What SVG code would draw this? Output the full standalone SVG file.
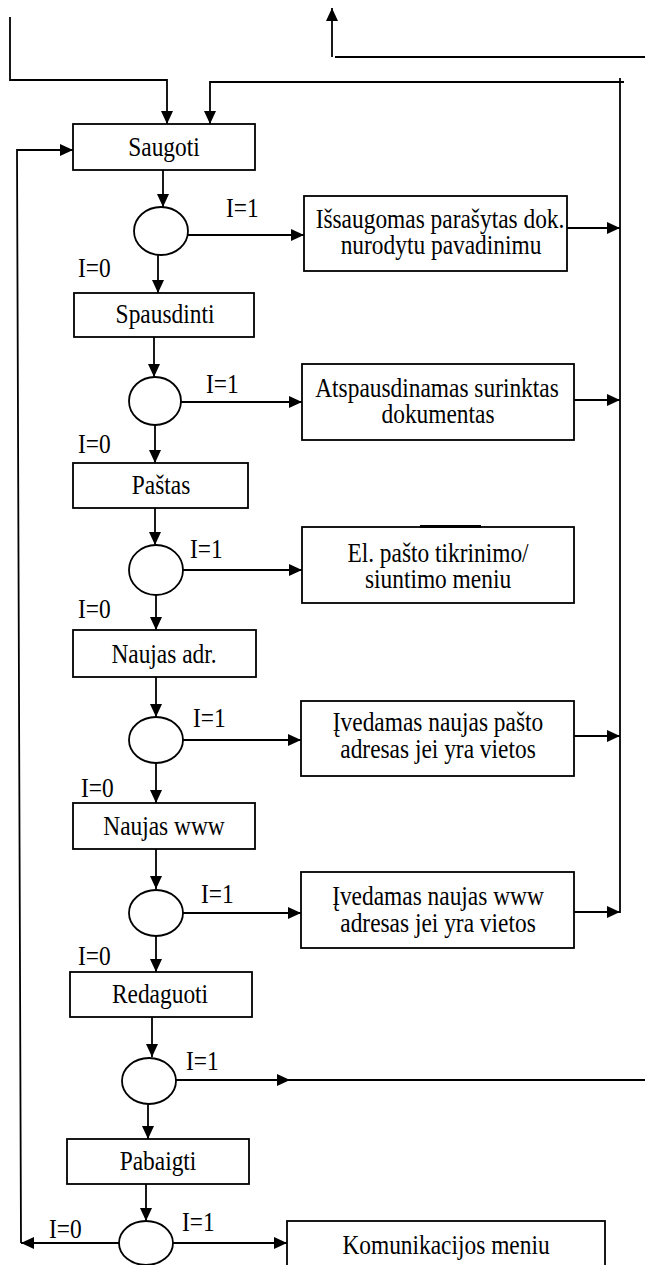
<svg xmlns="http://www.w3.org/2000/svg" width="645" height="1265" viewBox="0 0 645 1265">
  <style>
    .box { fill: #fff; stroke: #000; stroke-width: 1.8; }
    .dec { fill: #fff; stroke: #000; stroke-width: 1.8; }
    .ln { fill: none; stroke: #000; stroke-width: 1.8; }
    .arr { fill: none; stroke: #000; stroke-width: 1.8; marker-end: url(#ah); }
    text { font-family: "Liberation Serif", "Times New Roman", serif; font-size: 23.4px; fill: #000; }
    .c { text-anchor: middle; }
  </style>
  <defs>
    <marker id="ah" markerUnits="userSpaceOnUse" markerWidth="13" markerHeight="12" refX="13" refY="6" orient="auto">
      <path d="M0,0 L13,6 L0,12 z" fill="#000"/>
    </marker>
  </defs>
  <rect width="645" height="1265" fill="#fff"/>

  <!-- connectors -->
  <g id="connectors">
    <!-- incoming flows at the top -->
    <path class="arr" d="M10,17 V80 H167 V124"/>
    <path class="arr" d="M624,82 H210 V124"/>
    <path class="arr" d="M332,57 V8"/>
    <path class="ln" d="M335,57 H645"/>
    <!-- right-hand return bus -->
    <path class="ln" d="M620,78 V913"/>
    <!-- left-hand loop back to Saugoti -->
    <path class="arr" d="M21,1243 L17,150 H73"/>

    <!-- main column -->
    <path class="arr" d="M163,170 V207"/>
    <path class="arr" d="M158,255 V293"/>
    <path class="arr" d="M154,337 V377"/>
    <path class="arr" d="M155,425 V463"/>
    <path class="arr" d="M155,508 V545"/>
    <path class="arr" d="M156,595 V630"/>
    <path class="arr" d="M156,677 V717"/>
    <path class="arr" d="M156,763 V803"/>
    <path class="arr" d="M156,849 V889"/>
    <path class="arr" d="M156,936 V972"/>
    <path class="arr" d="M152,1017 V1057"/>
    <path class="arr" d="M148,1104 V1139"/>
    <path class="arr" d="M146,1184 V1221"/>

    <!-- I=1 branches -->
    <path class="arr" d="M188,235 H304"/>
    <path class="arr" d="M180,402 H302"/>
    <path class="arr" d="M183,570 H302"/>
    <path class="arr" d="M183,740 H301"/>
    <path class="arr" d="M183,913 H301"/>
    <path class="arr" d="M176,1080 H290"/>
    <path class="ln" d="M290,1080 H645"/>
    <path class="arr" d="M173,1243 H287"/>
    <!-- I=0 at the end -->
    <path class="arr" d="M119,1243 H21"/>

    <!-- results back to the bus -->
    <path class="arr" d="M567,228 H620"/>
    <path class="arr" d="M574,400 H620"/>
    <path class="arr" d="M574,736 H620"/>
    <path class="arr" d="M574,912 H620"/>
  </g>

  <!-- process boxes -->
  <g id="saugoti">
    <rect class="box" x="73" y="124" width="182" height="46"/>
    <text class="c" transform="translate(164,156) scale(1,1.13)">Saugoti</text>
  </g>
  <g id="spausdinti">
    <rect class="box" x="74" y="293" width="180" height="44"/>
    <text class="c" transform="translate(165,323) scale(1,1.13)">Spausdinti</text>
  </g>
  <g id="pastas">
    <rect class="box" x="73" y="463" width="175" height="45"/>
    <text class="c" transform="translate(161,494) scale(1,1.13)">Paštas</text>
  </g>
  <g id="naujas-adr">
    <rect class="box" x="73" y="630" width="183" height="47"/>
    <text class="c" transform="translate(164,663) scale(1,1.13)">Naujas adr.</text>
  </g>
  <g id="naujas-www">
    <rect class="box" x="73" y="803" width="182" height="46"/>
    <text class="c" transform="translate(164,835) scale(1,1.13)">Naujas www</text>
  </g>
  <g id="redaguoti">
    <rect class="box" x="70" y="972" width="182" height="45"/>
    <text class="c" transform="translate(160,1003) scale(1,1.13)">Redaguoti</text>
  </g>
  <g id="pabaigti">
    <rect class="box" x="67" y="1139" width="182" height="45"/>
    <text class="c" transform="translate(158,1170) scale(1,1.13)">Pabaigti</text>
  </g>

  <!-- decisions -->
  <g id="d1">
    <ellipse class="dec" cx="161" cy="231" rx="27" ry="24"/>
    <text transform="translate(226,217) scale(1,1.13)">I=1</text>
    <text transform="translate(78,277) scale(1,1.13)">I=0</text>
  </g>
  <g id="d2">
    <ellipse class="dec" cx="155" cy="401" rx="26" ry="24"/>
    <text transform="translate(206,393) scale(1,1.13)">I=1</text>
    <text transform="translate(78,453) scale(1,1.13)">I=0</text>
  </g>
  <g id="d3">
    <ellipse class="dec" cx="156" cy="570" rx="27" ry="25"/>
    <text transform="translate(190,558) scale(1,1.13)">I=1</text>
    <text transform="translate(78,618) scale(1,1.13)">I=0</text>
  </g>
  <g id="d4">
    <ellipse class="dec" cx="156" cy="740" rx="27" ry="23"/>
    <text transform="translate(193,727) scale(1,1.13)">I=1</text>
    <text transform="translate(81,797) scale(1,1.13)">I=0</text>
  </g>
  <g id="d5">
    <ellipse class="dec" cx="156" cy="913" rx="27" ry="23"/>
    <text transform="translate(201,903) scale(1,1.13)">I=1</text>
    <text transform="translate(78,965) scale(1,1.13)">I=0</text>
  </g>
  <g id="d6">
    <ellipse class="dec" cx="149" cy="1081" rx="27" ry="23"/>
    <text transform="translate(186,1070) scale(1,1.13)">I=1</text>
  </g>
  <g id="d7">
    <ellipse class="dec" cx="146" cy="1243" rx="27" ry="22"/>
    <text transform="translate(182,1231) scale(1,1.13)">I=1</text>
    <text transform="translate(49,1238) scale(1,1.13)">I=0</text>
  </g>

  <!-- action boxes -->
  <g id="issaugomas">
    <rect class="box" x="304" y="196" width="263" height="75"/>
    <text class="c" transform="translate(440,228) scale(1,1.13)">Išsaugomas parašytas dok.</text>
    <text class="c" transform="translate(441,254) scale(1,1.13)">nurodytu pavadinimu</text>
  </g>
  <g id="atspausdinamas">
    <rect class="box" x="302" y="364" width="272" height="76"/>
    <text class="c" transform="translate(437,397) scale(1,1.13)">Atspausdinamas surinktas</text>
    <text class="c" transform="translate(438,423) scale(1,1.13)">dokumentas</text>
  </g>
  <g id="el-pastas">
    <rect class="box" x="302" y="527" width="272" height="76"/>
    <path d="M420,526.5 H481" stroke="#000" stroke-width="3"/>
    <text class="c" transform="translate(438,562) scale(1,1.13)">El. pašto tikrinimo/</text>
    <text class="c" transform="translate(438,588) scale(1,1.13)">siuntimo meniu</text>
  </g>
  <g id="naujas-pastas">
    <rect class="box" x="301" y="701" width="273" height="75"/>
    <text class="c" transform="translate(438,731) scale(1,1.13)">Įvedamas naujas pašto</text>
    <text class="c" transform="translate(438,758) scale(1,1.13)">adresas jei yra vietos</text>
  </g>
  <g id="naujas-www-adr">
    <rect class="box" x="301" y="872" width="273" height="76"/>
    <text class="c" transform="translate(438,905) scale(1,1.13)">Įvedamas naujas www</text>
    <text class="c" transform="translate(438,932) scale(1,1.13)">adresas jei yra vietos</text>
  </g>
  <g id="komunikacijos">
    <rect class="box" x="287" y="1221" width="318" height="60"/>
    <text class="c" transform="translate(446,1254) scale(1,1.13)">Komunikacijos meniu</text>
  </g>
</svg>
